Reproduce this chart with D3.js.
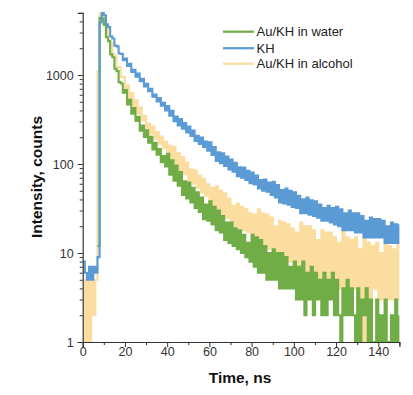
<!DOCTYPE html>
<html>
<head>
<meta charset="utf-8">
<script src="https://cdn.jsdelivr.net/npm/d3@7"></script>
<style>
  html, body { margin: 0; padding: 0; background: #fff; }
  svg { display: block; font-family: "Liberation Sans", Arial, sans-serif; }
</style>
</head>
<body>
<script>
// ---- data (counts per 1 ns bin) ----
const timeStart = 0;   // ns
const timeStep = 1;    // ns per bin
const seriesNames = ["Au/KH in water", "KH", "Au/KH in alcohol"];
const seriesColors = ["#70AD47", "#5B9BD5", "#FADD9F"];

const water = [0,0,0,0,0,0,0,
  12,4400,4300,3640,
  2660,2400,1705,1584,1174,1106,832,802,633,679,
  468,525,367,426,304,340,237,270,202,239,
  173,202,146,173,127,147,105,123,94,130,
  76,110,65,96,57,81,45,64,41,62,
  37,54,32,48,29,42,24,35,23,38,
  21,33,18,30,17,26,14,22,13,22,
  12,19,11,18,10,16,9,13,8,16,
  7,15,6,14,6,12,5,10,5,11,
  5,10,4,10,4,9,4,7,4,8,
  3,7,3,8,2,6,3,7,2,6,
  3,5,2,6,2,5,3,6,2,5,
  2,1,4,2,5,2,4,2,1,4,
  1,3,2,4,1,3,1,1,3,1,
  2,1,3,1,1,2,1,3,1,2];

const kh = [8,6,5,7,5,7,6,9,
  3900,5000,4700,
  3720,3450,2715,2575,2140,2100,1745,1728,1471,1534,
  1261,1340,1083,1141,956,1037,850,909,743,799,
  659,702,569,605,506,551,453,486,400,448,
  349,395,302,341,272,320,250,289,226,263,
  207,237,182,208,168,198,155,179,141,175,
  126,155,108,135,102,132,95,121,87,112,
  82,103,73,92,70,91,66,84,61,80,
  59,74,53,66,50,67,49,62,45,63,
  42,58,37,51,36,53,35,50,33,48,
  32,44,28,40,28,42,27,39,26,38,
  25,35,23,32,23,34,22,32,21,33,
  20,31,18,28,18,30,18,28,17,28,
  17,26,15,23,15,25,15,24,15,24,
  15,23,13,20,13,22,13,21,13,21];

const alcohol = [5,1,5,1,5,2,5,
  1100,4900,4700,3690,
  3330,2455,2300,1711,1631,1231,1209,954,946,696,
  761,533,627,446,520,368,430,308,349,243,
  285,218,263,193,228,168,204,151,179,120,
  161,109,155,98,133,85,120,77,104,64,
  87,60,85,54,74,48,68,44,59,33,
  54,32,56,30,50,27,47,25,41,21,
  34,20,36,19,33,18,31,17,28,12,
  27,12,31,12,28,11,27,11,25,9,
  20,9,23,9,22,8,21,8,19,6,
  17,6,22,6,20,6,20,6,18,5,
  14,5,18,5,17,5,17,5,15,3,
  13,4,18,4,15,3,14,4,15,3,
  11,1,16,1,13,3,12,4,13,3,
  10,3,14,3,12,3,11,3,13,3];

const xDomain = [0, 150];
const yDomain = [1, 5000];
const xTicks = [0, 20, 40, 60, 80, 100, 120, 140];
const xMinorTicks = [10, 30, 50, 70, 90, 110, 130, 150];
const yTicks = [1, 10, 100, 1000];
const yMinorTicks = [2,3,4,5,6,7,8,9,20,30,40,50,60,70,80,90,200,300,400,500,600,700,800,900,2000,3000,4000,5000];

// ---- chart ----
const W = 413, H = 395;
const svg = d3.select("body").append("svg").attr("width", W).attr("height", H);
svg.append("rect").attr("width", W).attr("height", H).attr("fill", "#fff");

const x = d3.scaleLinear().domain(xDomain).range([82.7, 399.4]);
const y = d3.scaleLog().domain(yDomain).range([342, 12.8]);

svg.append("clipPath").attr("id", "plotclip")
  .append("rect").attr("x", x(xDomain[0])).attr("y", y(yDomain[1]) - 1)
  .attr("width", x(xDomain[1]) - x(xDomain[0])).attr("height", y(yDomain[0]) - y(yDomain[1]) + 1);

const toPoints = arr => arr.map((v, i) => ({ t: timeStart + i * timeStep, v }));
const line = d3.line()
  .defined(d => d.v > 0)
  .x(d => x(d.t))
  .y(d => y(Math.max(d.v, yDomain[0])))
  .curve(d3.curveStepAfter);

const plot = svg.append("g").attr("clip-path", "url(#plotclip)");
// draw order: alcohol (bottom), water, KH (top)
[[alcohol, 2], [water, 0], [kh, 1]].forEach(([arr, ci]) => {
  plot.append("path")
    .datum(toPoints(arr))
    .attr("d", line)
    .attr("fill", "none")
    .attr("stroke", seriesColors[ci])
    .attr("stroke-width", 2.1)
    .attr("stroke-linejoin", "miter");
});

// ---- axes ----
const axisColor = "#333";
const fontSize = "12.5px";

const gx = svg.append("g").attr("transform", `translate(0,${y(yDomain[0])})`);
gx.call(d3.axisBottom(x).tickValues(xTicks).tickSize(5).tickPadding(0).tickFormat(d3.format("d")));
const gxm = svg.append("g").attr("transform", `translate(0,${y(yDomain[0])})`);
gxm.call(d3.axisBottom(x).tickValues(xMinorTicks).tickSize(3).tickFormat(""));
gxm.select(".domain").remove();

const gy = svg.append("g").attr("transform", `translate(${x(xDomain[0])},0)`);
gy.call(d3.axisLeft(y).tickValues(yTicks).tickSize(5).tickPadding(4).tickFormat(d3.format("d")));
const gym = svg.append("g").attr("transform", `translate(${x(xDomain[0])},0)`);
gym.call(d3.axisLeft(y).tickValues(yMinorTicks).tickSize(3).tickFormat(""));
gym.select(".domain").remove();

[gx, gxm, gy, gym].forEach(g => {
  g.selectAll(".domain").attr("stroke", axisColor).attr("stroke-width", 1.2);
  g.selectAll(".tick line").attr("stroke", axisColor).attr("stroke-width", 1);
  g.selectAll(".tick text").attr("fill", "#333").style("font-size", fontSize)
    .style("font-family", '"Liberation Sans", Arial, sans-serif');
});

// axis titles
svg.append("text")
  .attr("x", 240).attr("y", 383)
  .attr("text-anchor", "middle")
  .style("font-weight", "bold").style("font-size", "15.5px").attr("fill", "#111")
  .text("Time, ns");
svg.append("text")
  .attr("transform", "translate(41.5,177) rotate(-90)")
  .attr("text-anchor", "middle")
  .style("font-weight", "bold").style("font-size", "15.5px").attr("fill", "#111")
  .text("Intensity, counts");

// ---- legend ----
const legendY = [31.7, 48.2, 63.7];
const legend = svg.append("g");
seriesNames.forEach((name, i) => {
  legend.append("line")
    .attr("x1", 223).attr("x2", 254)
    .attr("y1", legendY[i]).attr("y2", legendY[i])
    .attr("stroke", seriesColors[i]).attr("stroke-width", 2.2);
  legend.append("text")
    .attr("x", 256.5).attr("y", legendY[i]).attr("dy", "0.36em")
    .style("font-size", "13px").attr("fill", "#222")
    .text(name);
});
</script>
</body>
</html>
